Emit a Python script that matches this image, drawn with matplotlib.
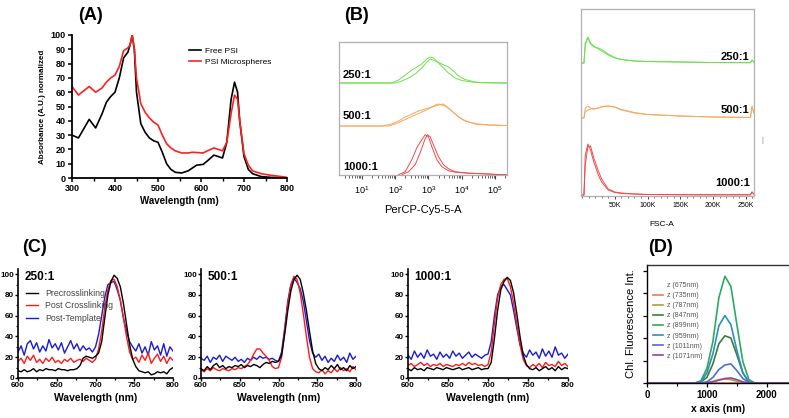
import numpy as np
import matplotlib
matplotlib.use("Agg")
import matplotlib.pyplot as plt
from matplotlib.ticker import MultipleLocator, NullFormatter

plt.rcParams['font.family'] = ['Liberation Sans', 'DejaVu Sans']

# ---------------- Panel A data ----------------
a_wl = [300, 315, 340, 355, 370, 380, 390, 400, 410, 420, 430, 435, 440, 445, 450, 460, 470, 480,
        490, 500, 510, 520, 530, 540, 555, 570, 580, 590, 605, 615, 630, 640, 650, 660, 670, 678,
        685, 690, 700, 710, 720, 740, 760, 800]
a_free = [30, 28, 41, 35, 45, 53, 57, 60, 70, 84, 88, 93, 100, 90, 60, 38, 32, 28,
          26, 25, 18, 10, 6, 4, 3.5, 5, 7, 9, 9.5, 12, 16, 15, 14, 25, 55, 67,
          60, 40, 15, 6, 3, 1, 0.5, 0]
a_micro = [64, 58, 64, 60, 63, 67, 70, 72, 78, 89, 91, 93, 100, 90, 70, 52, 46, 42,
           39, 37, 30, 24, 21, 19, 17.5, 17.5, 18, 17.8, 17.5, 19, 21, 20, 19, 25, 45, 58,
           55, 40, 17, 9, 5, 3, 2, 0.5]

# ---------------- Panel B (left) data: log10 of PerCP-Cy5-5-A, counts ----------------
b_red1_log = [2.1, 2.3, 2.5, 2.65, 2.8, 2.9, 3.0, 3.1, 3.25, 3.4, 3.6, 3.8, 4.2, 4.6, 5.0, 5.35]
b_red1_h = [0, 3, 15, 27, 35, 40, 38, 28, 15, 8, 4, 2.5, 1.5, 1, 0.3, 0]
b_red2_log = [2.2, 2.4, 2.6, 2.75, 2.9, 2.97, 3.05, 3.15, 3.3, 3.45, 3.6, 3.8, 4.2, 4.6, 5.0, 5.35]
b_red2_h = [0, 3, 10, 22, 36, 40, 38, 30, 18, 10, 6, 3, 1.5, 1, 0.3, 0]
b_or1_log = [0.3, 1.6, 1.9, 2.1, 2.3, 2.5, 2.7, 2.9, 3.1, 3.3, 3.45, 3.6, 3.8, 4.0, 4.2, 4.5, 4.8, 5.35]
b_or1_h = [0, 0, 2, 5, 9, 12, 15, 17, 19, 21, 22, 18, 12, 7, 4, 2, 1, 0.5]
b_or2_log = [0.3, 1.8, 2.0, 2.2, 2.4, 2.6, 2.8, 3.0, 3.2, 3.3, 3.5, 3.7, 3.9, 4.1, 4.4, 4.8, 5.35]
b_or2_h = [0, 0, 2, 5, 8, 11, 14, 17, 21, 22, 20, 15, 9, 5, 2, 1, 0.5]
b_gr1_log = [0.3, 1.9, 2.1, 2.3, 2.5, 2.65, 2.8, 2.95, 3.05, 3.15, 3.3, 3.45, 3.6, 3.8, 4.0, 4.3, 4.6, 5.35]
b_gr1_h = [0, 0, 3, 8, 13, 16, 19, 24, 26, 25, 20, 15, 10, 5, 2.5, 1, 0.3, 0]
b_gr2_log = [0.3, 2.0, 2.2, 2.4, 2.6, 2.8, 2.95, 3.05, 3.2, 3.4, 3.6, 3.75, 3.9, 4.1, 4.4, 4.7, 5.35]
b_gr2_h = [0, 0, 2, 5, 9, 15, 21, 24, 22, 19, 16, 12, 7, 3.5, 1, 0.3, 0]

# ---------------- Panel B (right) data: FSC-A, counts ----------------
f_x = [0, 3000, 5000, 9000, 13000, 18000, 25000, 30000, 40000, 50000, 60000, 80000, 100000,
       150000, 200000, 257000, 259500, 262000]
f_red1 = [0, 0, 40, 51, 45, 33, 20, 13, 5, 2.5, 1.5, 1, 0.5, 0.3, 0.2, 0.2, 3, 1]
f_red2 = [0, 0, 30, 48, 49, 37, 24, 16, 6, 3, 2, 1, 0.5, 0.3, 0.2, 0.2, 3, 1]
f_or1 = [0, 0, 10, 12, 10, 9, 10, 11, 12, 11, 8, 5, 3.5, 2, 1, 0.5, 12, 6]
f_or2 = [0, 0, 6, 8, 9, 9, 10, 11.5, 12, 11, 8.5, 5.5, 3.5, 2, 1, 0.5, 11, 5]
f_gr1 = [0, 0, 20, 26, 20, 17, 14, 12, 8, 5, 3.5, 2, 1.5, 1, 0.5, 0.3, 3, 1]
f_gr2 = [0, 0, 18, 25, 19, 16, 15, 13.5, 9, 5.5, 3.5, 2, 1.5, 1, 0.5, 0.3, 3, 1]

# ---------------- Panel C data ----------------
c_wl = list(range(600, 801, 4))
c1_pre = [7, 6, 8, 6, 7, 9, 6, 8, 7, 9, 8, 8, 7, 9, 8, 8, 7, 8, 8, 9, 12, 19, 21, 20, 19, 21,
          24, 35, 58, 80, 93, 99, 96, 88, 72, 52, 32, 18, 11, 7, 6, 5, 6, 3, 4, 6, 5, 6, 4, 8, 10]
c1_post = [16, 19, 14, 21, 17, 22, 15, 18, 14, 19, 16, 20, 15, 17, 14, 18, 16, 19, 15, 17, 18, 16,
           19, 17, 15, 18, 28, 45, 68, 85, 94, 95, 88, 75, 58, 40, 25, 18, 20, 15, 22, 17, 24, 14,
           19, 23, 16, 21, 14, 20, 17]
c1_tmpl = [25, 31, 22, 33, 36, 28, 34, 25, 31, 26, 37, 29, 33, 27, 34, 24, 30, 36, 28, 33, 26, 31,
           27, 29, 25, 30, 42, 60, 78, 90, 92, 93, 85, 75, 58, 45, 35, 30, 26, 33, 24, 30, 22, 35,
           27, 31, 22, 33, 21, 30, 26]
c2_pre = [9, 7, 11, 8, 12, 14, 10, 12, 9, 11, 10, 12, 11, 13, 10, 12, 11, 13, 12, 10, 13, 15, 14,
          16, 15, 16, 22, 42, 65, 84, 95, 99, 95, 82, 65, 45, 26, 14, 9, 7, 10, 8, 12, 9, 13, 8,
          10, 7, 12, 9, 11]
c2_post = [8, 6, 9, 7, 10, 8, 7, 9, 8, 7, 9, 8, 10, 9, 11, 13, 17, 23, 28, 28, 24, 21, 17, 11, 9,
           10, 20, 45, 72, 90, 98, 95, 82, 62, 40, 20, 9, 6, 5, 8, 4, 7, 5, 9, 6, 10, 7, 9, 6,
           11, 8]
c2_tmpl = [19, 17, 21, 15, 20, 18, 22, 16, 21, 19, 17, 20, 16, 18, 15, 19, 17, 20, 18, 21, 19, 20,
           18, 19, 17, 16, 25, 48, 74, 90, 96, 92, 86, 74, 55, 36, 24, 20, 23, 17, 21, 15, 19, 16,
           22, 17, 20, 15, 24, 18, 21]
c3_pre = [9, 7, 10, 8, 9, 7, 10, 9, 8, 10, 9, 8, 10, 9, 8, 9, 10, 8, 9, 10, 8, 9, 10, 8, 9, 9,
          15, 38, 65, 85, 93, 97, 94, 82, 62, 40, 22, 13, 9, 8, 10, 7, 9, 11, 8, 10, 7, 11, 8,
          10, 9]
c3_post = [12, 14, 11, 13, 15, 12, 14, 11, 13, 12, 14, 11, 13, 12, 11, 13, 12, 14, 12, 15, 13, 14,
           12, 13, 11, 13, 25, 52, 77, 90, 95, 96, 88, 72, 52, 32, 18, 12, 10, 13, 11, 14, 10, 15,
           12, 13, 11, 16, 12, 14, 11]
c3_tmpl = [22, 18, 26, 20, 24, 19, 27, 21, 23, 18, 25, 20, 23, 19, 26, 21, 24, 19, 22, 25, 20, 23,
           21, 19, 22, 23, 35, 60, 80, 88, 90, 85, 80, 65, 48, 32, 24, 20, 27, 22, 25, 19, 28, 21,
           26, 20, 30, 22, 24, 19, 23]
c_series_names = ["Precrosslinking", "Post Crosslinking", "Post-Template"]
c_ratios = ["250:1", "500:1", "1000:1"]

# ---------------- Panel D data ----------------
d_x = [0, 700, 800, 900, 1000, 1100, 1200, 1300, 1400, 1500, 1600, 1700, 1800, 2400]
d_labels = ["z (675nm)", "z (735nm)", "z (787nm)", "z (847nm)", "z (899nm)",
            "z (959nm)", "z (1011nm)", "z (1071nm)"]
d_675 = [0] * 14
d_735 = [0] * 14
d_787 = [0, 0, 0, 0, 0.5, 1.5, 3, 3.5, 3, 1.5, 0.5, 0, 0, 0]
d_847 = [0, 0, 0, 1, 5, 17, 35, 42, 40, 25, 9, 1, 0, 0]
d_899 = [0, 0, 0, 2, 13, 37, 76, 95, 86, 52, 19, 3, 0, 0]
d_959 = [0, 0, 0, 1, 9, 26, 51, 60, 52, 29, 9, 1, 0, 0]
d_1011 = [0, 0, 0, 0, 1, 5, 12, 16, 17, 11, 4, 0.5, 0, 0]
d_1071 = [0, 0, 0, 0, 0, 1, 2.5, 4, 4.5, 3, 1, 0, 0, 0]

# ================= Figure =================
W, H = 789, 418
fig = plt.figure(figsize=(W / 100, H / 100), dpi=100)


def rect(l, r, t, b):
    return [l / W, 1 - b / H, (r - l) / W, (b - t) / H]


LABFONT = ['Liberation Sans', 'DejaVu Sans']

# ---- Panel A ----
axA = fig.add_axes(rect(72, 287, 35, 178))
axA.plot(a_wl, a_free, color='black', lw=1.2, label='Free PSI')
axA.plot(a_wl, a_micro, color='#ff2020', lw=1.2, label='PSI Microspheres')
axA.set_xlim(300, 800)
axA.set_ylim(0, 100)
axA.xaxis.set_major_locator(MultipleLocator(100))
axA.xaxis.set_minor_locator(MultipleLocator(50))
axA.yaxis.set_major_locator(MultipleLocator(10))
for s in ['top', 'right']:
    axA.spines[s].set_visible(False)
for s in ['left', 'bottom']:
    axA.spines[s].set_linewidth(1.3)
axA.tick_params(labelsize=6.5, width=1.1, length=3, pad=1.5)
axA.tick_params(which='minor', width=1.0, length=2)
for lab in axA.get_xticklabels() + axA.get_yticklabels():
    lab.set_fontweight('bold')
axA.set_xlabel('Wavelength (nm)', fontsize=7, fontweight='bold', labelpad=2)
axA.set_ylabel('Absorbance (A.U.) normalized', fontsize=5.8, fontweight='bold', labelpad=3)
axA.legend(loc='upper left', bbox_to_anchor=(0.53, 0.94), frameon=False, fontsize=6,
           handlelength=1.4, handletextpad=0.5, labelspacing=0.45, borderaxespad=0)
fig.text(78 / W, 1 - 16 / H, '(A)', fontsize=13, fontweight='bold', family=LABFONT,
         ha='left', va='center')

# ---- Panel B left ----
GREEN, ORANGE, RED = '#6fe04f', '#f7a95e', '#f24b4b'
axB = fig.add_axes(rect(339, 507, 42, 175))
offs = {'red': 0.3, 'or': 49, 'gr': 92}
for lx, h in [(b_red1_log, b_red1_h), (b_red2_log, b_red2_h)]:
    axB.plot(np.power(10.0, lx), np.array(h) + offs['red'], color=RED, lw=0.7)
for lx, h in [(b_or1_log, b_or1_h), (b_or2_log, b_or2_h)]:
    axB.plot(np.power(10.0, lx), np.array(h) + offs['or'], color=ORANGE, lw=0.7)
for lx, h in [(b_gr1_log, b_gr1_h), (b_gr2_log, b_gr2_h)]:
    axB.plot(np.power(10.0, lx), np.array(h) + offs['gr'], color=GREEN, lw=0.7)
axB.set_xscale('log')
axB.set_xlim(10 ** 0.31, 10 ** 5.36)
axB.set_ylim(0, 133)
axB.set_yticks([])
axB.set_xticks([10, 100, 1000, 10000, 100000])
axB.xaxis.set_minor_locator(matplotlib.ticker.LogLocator(base=10, subs=np.arange(2, 10)))
axB.xaxis.set_minor_formatter(NullFormatter())
for s in axB.spines.values():
    s.set_color('#b0b0b0')
    s.set_linewidth(0.9)
axB.tick_params(axis='x', labelsize=6.5, length=3, width=0.8, color='#444444', pad=4)
axB.tick_params(axis='x', which='minor', length=2, width=0.6, color='#444444')
axB.set_xlabel('PerCP-Cy5-5-A', fontsize=8, labelpad=6)
for txt, yf in [('250:1', 0.75), ('500:1', 0.44), ('1000:1', 0.06)]:
    axB.text(0.024, yf, txt, transform=axB.transAxes, fontsize=8, fontweight='bold',
             family=LABFONT, ha='left', va='center')
fig.text(344 / W, 1 - 16 / H, '(B)', fontsize=13, fontweight='bold', family=LABFONT,
         ha='left', va='center')

# ---- Panel B right ----
axF = fig.add_axes(rect(581, 754, 9, 196))
offF = {'red': 1, 'or': 78, 'gr': 133}
for h in [f_red1, f_red2]:
    axF.plot(f_x, np.array(h) + offF['red'], color=RED, lw=0.7)
for h in [f_or1, f_or2]:
    axF.plot(f_x, np.array(h) + offF['or'], color=ORANGE, lw=0.7)
for h in [f_gr1, f_gr2]:
    axF.plot(f_x, np.array(h) + offF['gr'], color=GREEN, lw=0.7)
axF.set_xlim(-1500, 262500)
axF.set_ylim(0, 187)
axF.set_yticks([])
axF.set_xticks([50000, 100000, 150000, 200000, 250000])
axF.set_xticklabels(['50K', '100K', '150K', '200K', '250K'])
axF.xaxis.set_minor_locator(MultipleLocator(10000))
for s in axF.spines.values():
    s.set_color('#b0b0b0')
    s.set_linewidth(0.9)
axF.tick_params(axis='x', labelsize=5, length=2.5, width=0.7, color='#444444', pad=2)
axF.tick_params(axis='x', which='minor', length=1.5, width=0.5, color='#444444')
for txt, yf in [('250:1', 0.745), ('500:1', 0.46), ('1000:1', 0.07)]:
    axF.text(0.975, yf, txt, transform=axF.transAxes, fontsize=8, fontweight='bold',
             family=LABFONT, ha='right', va='center')
fig.text(662 / W, 1 - 224 / H, 'FSC-A', fontsize=6, ha='center', va='center')
fig.text(762 / W, 1 - 140 / H, '|', fontsize=5, color='#888888', ha='center', va='center')

# ---- Panel C ----
c_data = [(c1_pre, c1_post, c1_tmpl), (c2_pre, c2_post, c2_tmpl), (c3_pre, c3_post, c3_tmpl)]
c_rects = [rect(18, 173, 269, 378), rect(201, 356, 269, 378), rect(408, 568, 269, 378)]
c_colors = ['black', '#ff1a1a', '#1a1ad6']
for i, (r, data) in enumerate(zip(c_rects, c_data)):
    ax = fig.add_axes(r)
    for j in [2, 1, 0]:
        ax.plot(c_wl, data[j], color=c_colors[j], lw=1.0, label=c_series_names[j])
    ax.set_xlim(600, 800)
    ax.set_ylim(0, 105)
    ax.xaxis.set_major_locator(MultipleLocator(50))
    ax.xaxis.set_minor_locator(MultipleLocator(25))
    ax.yaxis.set_major_locator(MultipleLocator(20))
    ax.yaxis.set_minor_locator(MultipleLocator(10))
    for s in ['top', 'right']:
        ax.spines[s].set_visible(False)
    for s in ['left', 'bottom']:
        ax.spines[s].set_linewidth(1.2)
    ax.tick_params(labelsize=5.8, width=1.0, length=2.2, pad=0.8)
    ax.tick_params(which='minor', width=0.9, length=1.6)
    for lab in ax.get_xticklabels() + ax.get_yticklabels():
        lab.set_fontweight('bold')
    ax.set_xlabel('Wavelength (nm)', fontsize=7.5, fontweight='bold', labelpad=3)
    ax.text(0.04, 0.93, c_ratios[i], transform=ax.transAxes, fontsize=8.5, fontweight='bold',
            family=LABFONT, ha='left', va='center')
    if i == 0:
        handles, labels = ax.get_legend_handles_labels()
        leg = ax.legend(handles[::-1], labels[::-1], loc='upper left',
                        bbox_to_anchor=(0.03, 0.85), frameon=False, fontsize=6.3,
                        handlelength=1.4, handletextpad=0.8, labelspacing=0.4,
                        borderaxespad=0)
        for t in leg.get_texts():
            t.set_color('#444444')
fig.text(22 / W, 1 - 248 / H, '(C)', fontsize=13, fontweight='bold', family=LABFONT,
         ha='left', va='center')

# ---- Panel D ----
axD = fig.add_axes(rect(647, 789, 265, 383))
d_series = [d_675, d_735, d_787, d_847, d_899, d_959, d_1011, d_1071]
d_colors = ['white', '#f07b4a', '#a3a33c', '#3c7a3c', '#2fa862', '#2c8fc0', '#4a6fd4', '#9a40a8']
for ys, col, lab in zip(d_series, d_colors, d_labels):
    axD.plot(d_x, ys, color=col, lw=1.2, label=lab)
axD.set_xlim(0, 2370)
axD.set_ylim(0, 105)
axD.set_xticks([0, 1000, 2000])
axD.xaxis.set_minor_locator(MultipleLocator(500))
axD.yaxis.set_major_locator(MultipleLocator(20))
axD.yaxis.set_major_formatter(NullFormatter())
axD.spines['right'].set_visible(False)
for s in ['left', 'bottom', 'top']:
    axD.spines[s].set_linewidth(1.0)
axD.spines['top'].set_color('#333333')
axD.tick_params(labelsize=7, width=0.9, length=3, pad=2)
axD.tick_params(which='minor', width=0.8, length=2)
for lab in axD.get_xticklabels():
    lab.set_fontweight('bold')
axD.set_xlabel('x axis (nm)', fontsize=7.5, fontweight='bold', labelpad=3)
axD.set_ylabel('Chl. Fluorescence Int.', fontsize=8, labelpad=3)
legD = axD.legend(loc='upper left', bbox_to_anchor=(0.02, 0.88), frameon=False, fontsize=5,
                  handlelength=1.5, handletextpad=0.6, labelspacing=0.45, borderaxespad=0)
for t in legD.get_texts():
    t.set_color('#555555')
fig.text(648 / W, 1 - 248 / H, '(D)', fontsize=13, fontweight='bold', family=LABFONT,
         ha='left', va='center')

fig.savefig('out.png', dpi=100)
